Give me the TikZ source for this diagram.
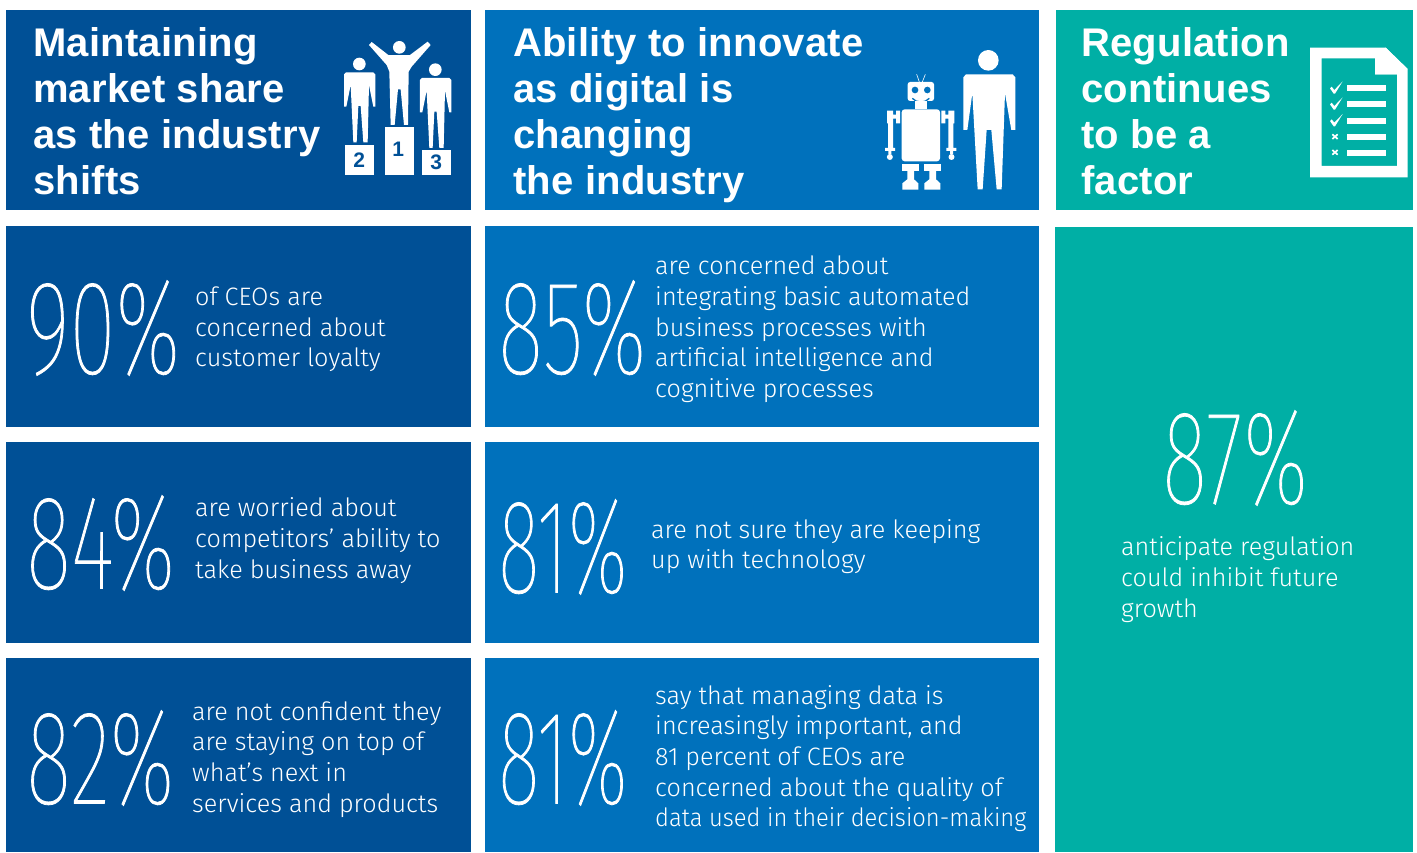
\documentclass[tikz,border=0pt]{standalone}
\usepackage{fontspec}
\setmainfont{Fira Sans Light}
\newfontfamily\headfont[LetterSpace=0.6]{Liberation Sans Bold}
\newfontfamily\numfont[FakeStretch=0.635,FakeBold=0.6]{Fira Sans Thin}
\newfontfamily\numfontb[FakeStretch=0.585,FakeBold=0.6]{Fira Sans Thin}
\definecolor{dkblue}{HTML}{005096}
\definecolor{mdblue}{HTML}{0071BC}
\definecolor{teal}{HTML}{00AFA5}
\tikzset{
  x=1pt,y=-1pt,
  head/.style={anchor=north west,inner sep=0pt,text=white,align=left,font=\headfont\fontsize{40}{46}\selectfont},
  body/.style={anchor=west,inner sep=0pt,text=white,align=left,font=\fontsize{25.2}{30.7}\selectfont},
  num/.style={anchor=west,inner sep=0pt,text=white,font=\numfont\fontsize{134}{134}\selectfont},
  numb/.style={anchor=west,inner sep=0pt,text=white,font=\numfontb\fontsize{134}{134}\selectfont},
  podnum/.style={inner sep=0pt,text=dkblue,font=\headfont\fontsize{21}{21}\selectfont},
}
\newcommand{\personshape}{%
  \fill[white] (88,102) circle (19);
  \fill[white] (42,133)--(48,127)--(130,127)--(136,133)--(136,230)--(130,230)--(117,165)--(113,337)--(100,337)--(92,228)--(85,228)--(80,337)--(70,337)--(62,165)--(49,230)--(42,230)--cycle;
}
\begin{document}
\begin{tikzpicture}
\useasboundingbox (0,0) rectangle (1417,852);
\fill[white] (0,0) rectangle (1417,852);
% boxes
\foreach \a/\b in {10/210,226/427,442/643,658/852}{
  \fill[dkblue] (6,\a) rectangle (471,\b);
  \fill[mdblue] (485,\a) rectangle (1039,\b);
}
\fill[teal] (1056,10) rectangle (1413,210);
\fill[teal] (1055,227) rectangle (1413,852);
% headers
\node[head] (h1) at (33,27) {Maintaining\\market share\\as the industry\\shifts};
\node[head] (h2) at (513,27) {Ability to innovate\\as digital is\\changing\\the industry};
\node[head] (h3) at (1081,27) {Regulation\\continues\\to be a\\factor};
% big numbers
\node[num] (n1) at (26,328) {90\%};
\node[num] (n2) at (26,543) {84\%};
\node[num] (n3) at (26,758) {82\%};
\node[num] (n4) at (498,328) {85\%};
\node[numb] (n5) at (498,547) {81\%};
\node[numb] (n6) at (498,758) {81\%};
\node[num] (n7) at (1162,458) {87\%};
% body
\node[body] (t1) at (195,329.5) {of CEOs are\\concerned about\\customer loyalty};
\node[body] (t2) at (195,540.5) {are worried about\\competitors’ ability to\\take business away};
\node[body] (t3) at (192,759.5) {are not confident they\\are staying on top of\\what’s next in\\services and products};
\node[body] (t4) at (655,329.5) {are concerned about\\integrating basic automated\\business processes with\\artificial intelligence and\\cognitive processes};
\node[body] (t5) at (651,546.5) {are not sure they are keeping\\up with technology};
\node[body] (t6) at (655,758.5) {say that managing data is\\increasingly important, and\\81 percent of CEOs are\\concerned about the quality of\\\scalebox{0.943}[1]{data used in their decision-making}};
\node[body] (t7) at (1121,579.5) {anticipate regulation\\could inhibit future\\growth};
% podium icon
\begin{scope}[shift={(330,30)},x=0.3333pt,y=-0.3333pt]
  \personshape
  \begin{scope}[shift={(228,17)}]\personshape\end{scope}
  \fill[white] (208,52) circle (19);
  \fill[white] (117,45)--(125,36)--(175,75)--(240,75)--(293,35)--(302,45)--(245,110)--(236,125)--(234,285)--(222,285)--(212,178)--(204,178)--(194,285)--(182,285)--(178,125)--(170,105)--cycle;
  \fill[white] (45,345) rectangle (132,435);
  \fill[white] (165,291) rectangle (252,435);
  \fill[white] (276,360) rectangle (363,435);
  \node[podnum] (p2) at (88,390) {2};
  \node[podnum] (p1) at (205,357) {1};
  \node[podnum] (p3) at (319,397) {3};
\end{scope}
% robot icon
\begin{scope}[shift={(870,40)},x=0.3333pt,y=-0.3333pt]
  \fill[white] (355,61) circle (31);
  \fill[white] (280,112)--(288,103)--(428,103)--(436,112)--(436,270)--(424,270)--(405,160)--(395,448)--(380,448)--(364,270)--(350,270)--(338,448)--(323,448)--(307,160)--(292,270)--(280,270)--cycle;
  \draw[white,line width=0.6pt] (148,126)--(140,103) (157,126)--(166,103);
  \fill[white,rounded corners=2.5pt] (113,126) rectangle (192,183);
  \fill[mdblue] (135,150) circle (10) (172,150) circle (10);
  \draw[mdblue,line width=1.3pt] (127,175) .. controls (140,190) and (165,190) .. (178,175);
  \fill[white] (135,183) rectangle (170,208);
  \fill[white,rounded corners=3pt] (95,208) rectangle (210,364);
  \foreach \m/\o in {1/0,-1/304}{
    \begin{scope}[shift={(\o,0)},xscale=\m]
      \fill[white] (51,212)--(69,212)--(69,224)--(78,224)--(78,212)--(90,212)--(90,250)--(78,250)--(78,236)--(69,236)--(69,324)--(75,324)--(75,333)--(64,333)--(64,343)--(55,343)--(55,333)--(45,333)--(45,324)--(54,324)--(54,250)--(51,250)--cycle;
      \fill[white] (59.5,351) circle (9);
    \end{scope}
  }
  \foreach \d in {0,66}{
    \begin{scope}[shift={(\d,0)}]
      \fill[white] (97,372) rectangle (146,393);
      \fill[white] (112,393)--(132,393)--(132,418)--(145,430)--(145,449)--(97,449)--(97,430)--(112,418)--cycle;
    \end{scope}
  }
\end{scope}
% checklist icon
\begin{scope}[shift={(1295,35)},x=0.3333pt,y=-0.3333pt]
  \fill[white,even odd rule] (45,38)--(272,38)--(338,102)--(338,427)--(45,427)--cycle
     (80,70)--(240,70)--(240,118)--(306,118)--(306,393)--(80,393)--cycle;
  \fill[white] (240,70) -- (272,38) -- (338,102) -- (306,118) -- (240,118) -- cycle;
  \foreach \yy in {150,198,249,297,345}{\fill[white] (156,\yy) rectangle (273,\yy+18);}
  \foreach \yy in {0,48,98}{
    \fill[white] (105,\yy+160)--(110,\yy+155)--(118,\yy+165)--(143,\yy+139)--(120,\yy+176)--(116,\yy+176)--cycle;
  }
  \foreach \yy in {305,352}{
    \draw[white,line width=1.7pt] (112,\yy-7)--(128,\yy+7) (112,\yy+7)--(128,\yy-7);
  }
\end{scope}
\end{tikzpicture}
\end{document}
